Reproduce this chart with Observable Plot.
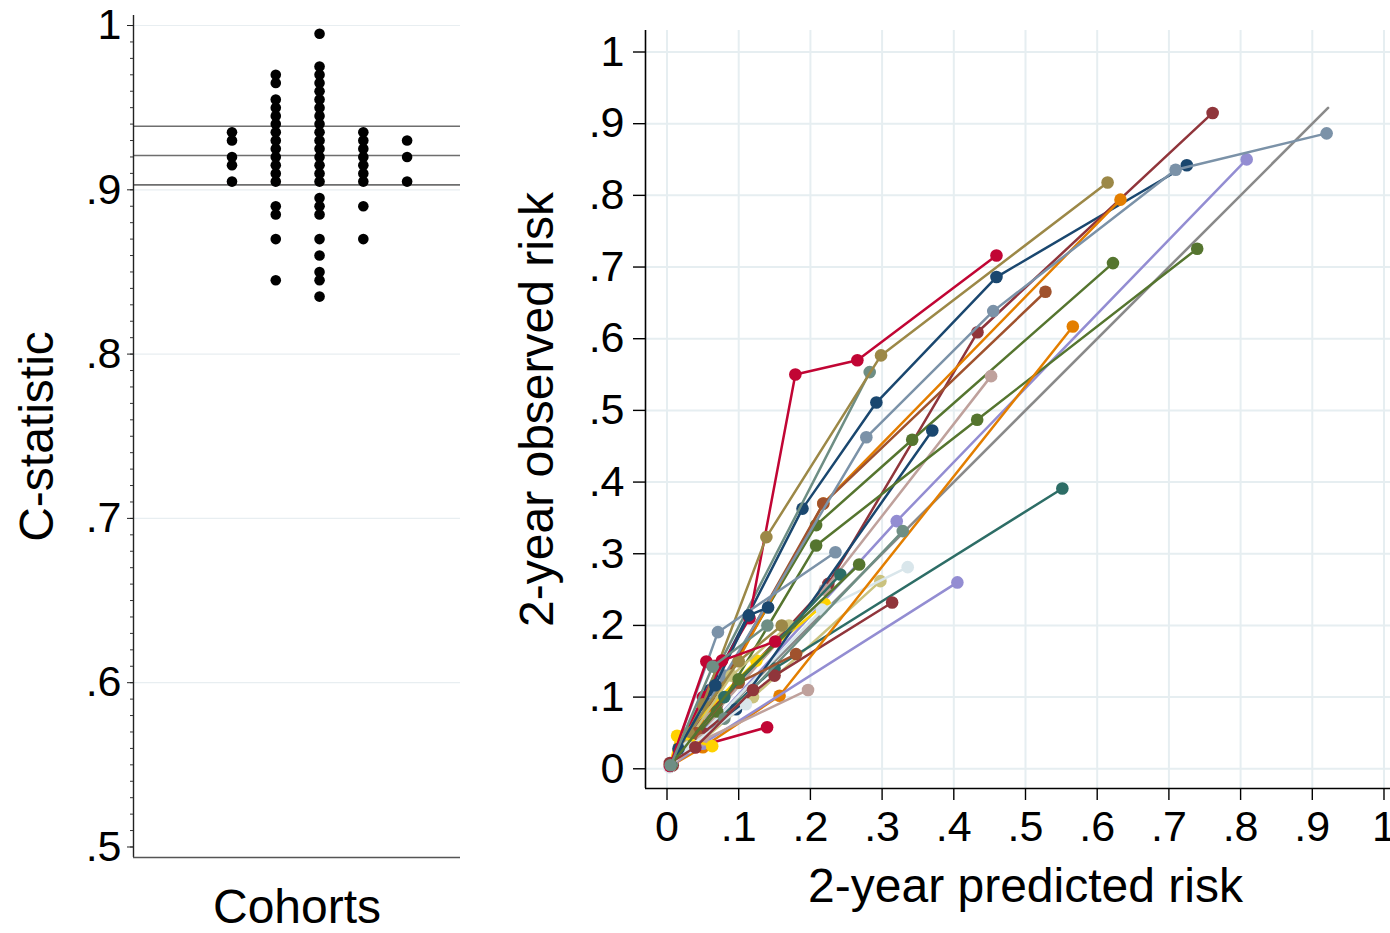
<!DOCTYPE html>
<html><head><meta charset="utf-8">
<script src="https://cdn.jsdelivr.net/npm/d3@7"></script>
<script src="https://cdn.jsdelivr.net/npm/@observablehq/plot@0.6"></script>
<style>
html,body{margin:0;padding:0;background:#fff;overflow:hidden;width:1390px;height:933px;}
#wrap{position:relative;width:1390px;height:933px;overflow:hidden;}
#left{position:absolute;left:0;top:0;width:470px;height:933px;}
#right{position:absolute;left:470px;top:0;width:945px;height:933px;}
</style></head><body><div id="wrap"><div id="left"></div><div id="right"></div></div>
<script>
// ---------- Left panel data: C-statistic per cohort (binned as in the dot plot) ----------
const cStat = [
  0.995, 0.975, 0.97, 0.97, 0.965, 0.965, 0.96, 0.955, 0.955, 0.95, 0.95,
  0.945, 0.945, 0.94, 0.94, 0.935, 0.935, 0.935, 0.935,
  0.93, 0.93, 0.93, 0.93, 0.93, 0.925, 0.925, 0.925,
  0.92, 0.92, 0.92, 0.92, 0.92, 0.915, 0.915, 0.915, 0.915,
  0.91, 0.91, 0.91, 0.905, 0.905, 0.905, 0.905, 0.905,
  0.895, 0.89, 0.89, 0.89, 0.885, 0.885, 0.87, 0.87, 0.87,
  0.86, 0.85, 0.845, 0.845, 0.835
];
const cQuartiles = [0.9030, 0.9209, 0.9387];
const cTicks = [0.5, 0.6, 0.7, 0.8, 0.9, 1];
const cMinorTicks = d3.range(50, 101).map(i => i / 100);
const cDomain = [0.4936, 1.0061];
const colDomain = [-4.25, 3.22];

// ---------- Right panel data: calibration by cohort ----------
const riskTicks = [0, 0.1, 0.2, 0.3, 0.4, 0.5, 0.6, 0.7, 0.8, 0.9, 1];
const riskXDomain = [-0.030, 1.030];
const riskYDomain = [-0.0275, 1.030];
const diagonalEnds = [0, 0.922];

const stataColors = {
  navy: "#1a476f", maroon: "#90353b", forest: "#55752f", dkorange: "#e37e00",
  teal: "#6e8e84", cranberry: "#c10534", lavender: "#938dd2", khaki: "#cac27e",
  sienna: "#a0522d", emidblue: "#7b92a8", emerald: "#2d6d66", brown: "#9c8847",
  erose: "#bfa19c", gold: "#ffd200", bluishgray: "#d9e6eb"
};

const cohortColor = [
  "navy", "maroon", "forest", "dkorange", "teal", "cranberry", "lavender", "khaki",
  "sienna", "emidblue", "emerald", "brown", "erose", "gold", "bluishgray",
  "navy", "maroon", "forest", "dkorange", "teal", "cranberry", "lavender", "khaki",
  "sienna", "emidblue", "emerald", "brown", "erose", "gold", "bluishgray",
  "navy", "maroon", "forest", "cranberry", "teal"
];
const predicted = [
  [0.005, 0.06, 0.189, 0.292, 0.4595, 0.725],
  [0.008, 0.07, 0.225, 0.433, 0.761],
  [0.005, 0.06, 0.208, 0.342, 0.622],
  [0.005, 0.06, 0.218, 0.6325],
  [0.006, 0.07, 0.2827],
  [0.005, 0.05, 0.115, 0.179, 0.2655, 0.4595],
  [0.005, 0.06, 0.3204, 0.8085],
  [0.004, 0.05, 0.12, 0.2976],
  [0.005, 0.06, 0.218, 0.5278],
  [0.007, 0.08, 0.278, 0.455, 0.7094, 0.92],
  [0.005, 0.05, 0.15, 0.5514],
  [0.004, 0.05, 0.1386, 0.2985, 0.6145],
  [0.005, 0.06, 0.22, 0.452],
  [0.005, 0.02, 0.1246, 0.22],
  [0.004, 0.05, 0.216, 0.3357],
  [0.005, 0.04, 0.0963, 0.37],
  [0.005, 0.05, 0.15, 0.314],
  [0.006, 0.07, 0.208, 0.4326, 0.7395],
  [0.005, 0.05, 0.157, 0.566],
  [0.006, 0.08, 0.3288],
  [0.005, 0.04, 0.1396],
  [0.004, 0.05, 0.405],
  [0.005, 0.03, 0.09, 0.17],
  [0.004, 0.04, 0.1, 0.18],
  [0.004, 0.071, 0.2349],
  [0.005, 0.08, 0.2418],
  [0.004, 0.03, 0.1, 0.16],
  [0.004, 0.05, 0.1967],
  [0.004, 0.014, 0.063],
  [0.003, 0.03, 0.11],
  [0.005, 0.016, 0.0674, 0.114, 0.141],
  [0.004, 0.0395, 0.12],
  [0.005, 0.1, 0.268],
  [0.004, 0.0548, 0.0767, 0.151],
  [0.005, 0.0636, 0.14]
];
const observed = [
  [0.006, 0.11, 0.363, 0.511, 0.686, 0.842],
  [0.005, 0.09, 0.258, 0.609, 0.915],
  [0.005, 0.09, 0.34, 0.459, 0.7055],
  [0.005, 0.08, 0.37, 0.794],
  [0.006, 0.14, 0.5534],
  [0.005, 0.10, 0.21, 0.55, 0.57, 0.716],
  [0.004, 0.06, 0.3455, 0.8502],
  [0.004, 0.04, 0.1, 0.2618],
  [0.005, 0.09, 0.37, 0.6655],
  [0.007, 0.13, 0.4625, 0.6385, 0.8358, 0.8865],
  [0.004, 0.05, 0.14, 0.391],
  [0.004, 0.09, 0.3232, 0.5767, 0.818],
  [0.004, 0.07, 0.25, 0.5478],
  [0.006, 0.045, 0.151, 0.23],
  [0.003, 0.05, 0.222, 0.2813],
  [0.005, 0.035, 0.083, 0.472],
  [0.004, 0.05, 0.13, 0.232],
  [0.005, 0.08, 0.3116, 0.487, 0.7256],
  [0.004, 0.03, 0.102, 0.617],
  [0.006, 0.07, 0.3316],
  [0.004, 0.03, 0.058],
  [0.003, 0.035, 0.26],
  [0.005, 0.04, 0.13, 0.2],
  [0.004, 0.05, 0.12, 0.16],
  [0.004, 0.1906, 0.302],
  [0.005, 0.1, 0.271],
  [0.005, 0.05, 0.15, 0.2],
  [0.003, 0.04, 0.110],
  [0.004, 0.046, 0.0316],
  [0.002, 0.03, 0.09],
  [0.006, 0.028, 0.1166, 0.214, 0.225],
  [0.008, 0.030, 0.11],
  [0.005, 0.125, 0.285],
  [0.004, 0.1497, 0.151, 0.1776],
  [0.005, 0.1427, 0.2]
];

// ---------- helpers ----------
const fmt = d => {
  const s = d3.format(".1f")(d);
  if (s === "0.0") return "0";
  if (s === "1.0") return "1";
  return s.replace(/^0/, "");
};
const FONT = "'Liberation Sans', Arial, Helvetica, sans-serif";

// ---------- Left panel ----------
const dotRows = d3.groups(cStat, v => v).flatMap(([v, vs]) =>
  vs.map((_, i) => ({c: v, col: i - Math.floor(vs.length / 2)})));

const left = Plot.plot({
  width: 470, height: 933,
  marginLeft: 133, marginRight: 10, marginTop: 15, marginBottom: 76,
  style: {fontFamily: FONT, fontSize: "43px", maxWidth: "none", overflow: "visible", background: "white"},
  x: {domain: colDomain, axis: null},
  y: {domain: cDomain, axis: null},
  marks: [
    Plot.ruleY(cTicks.filter(d => d > 0.5), {stroke: "#e8eef1", strokeWidth: 1.2}),
    Plot.ruleY(cQuartiles, {stroke: "#6e6e6e", strokeWidth: 1.7}),
    Plot.dot(dotRows, {x: "col", y: "c", r: 5.3, fill: "black", stroke: "none"}),
    Plot.ruleX([colDomain[0]], {stroke: "#222", strokeWidth: 1.4}),
    Plot.ruleY([cDomain[0]], {stroke: "#555", strokeWidth: 1.4}),
    Plot.axisY(cMinorTicks, {tickSize: 3, tickFormat: () => "", stroke: "#333", label: null}),
    Plot.axisY(cTicks, {tickSize: 6, tickPadding: 6, tickFormat: fmt, fontSize: 43, stroke: "#222", fill: "black", label: null}),
    Plot.text(["C-statistic"], {frameAnchor: "left", dx: -96, rotate: -90, fontSize: 48, textAnchor: "middle", lineAnchor: "middle", fill: "black"}),
    Plot.text(["Cohorts"], {frameAnchor: "bottom", dy: 50, fontSize: 48, textAnchor: "middle", lineAnchor: "middle", fill: "black"})
  ]
});
document.getElementById("left").append(left);

// ---------- Right panel ----------
const calib = predicted.map((ps, k) => ps.map((p, i) => ({k, p, o: observed[k][i]})));
const cohortMarks = calib.flatMap((pts, k) => {
  const col = stataColors[cohortColor[k]];
  return [
    Plot.line(pts, {x: "p", y: "o", stroke: col, strokeWidth: 2.5}),
    Plot.dot(pts, {x: "p", y: "o", r: 6.3, fill: col, stroke: "none"})
  ];
});
const diag = diagonalEnds.map(v => ({p: v, o: v}));

const right = Plot.plot({
  width: 945, height: 933,
  marginLeft: 175, marginRight: 10, marginTop: 30, marginBottom: 145,
  style: {fontFamily: FONT, fontSize: "43px", maxWidth: "none", overflow: "visible", background: "white"},
  x: {domain: riskXDomain, axis: null},
  y: {domain: riskYDomain, axis: null},
  marks: [
    Plot.ruleX(riskTicks, {stroke: "#e6eef1", strokeWidth: 2}),
    Plot.ruleY(riskTicks, {stroke: "#e6eef1", strokeWidth: 2}),
    Plot.line(diag, {x: "p", y: "o", stroke: "#8a8a8a", strokeWidth: 2.6}),
    ...cohortMarks,
    Plot.ruleX([riskXDomain[0]], {stroke: "black", strokeWidth: 1.6}),
    Plot.ruleY([riskYDomain[0]], {stroke: "black", strokeWidth: 1.6}),
    Plot.axisX(riskTicks, {tickSize: 12, tickPadding: 10, tickFormat: fmt, fontSize: 43, stroke: "black", strokeWidth: 1.4, fill: "black", label: null}),
    Plot.axisY(riskTicks, {tickSize: 12, tickPadding: 9, tickFormat: fmt, fontSize: 43, stroke: "black", strokeWidth: 1.4, fill: "black", label: null}),
    Plot.text(["2-year observed risk"], {frameAnchor: "left", dx: -108, rotate: -90, fontSize: 48, textAnchor: "middle", lineAnchor: "middle", fill: "black"}),
    Plot.text(["2-year predicted risk"], {frameAnchor: "bottom", dy: 98, fontSize: 48, textAnchor: "middle", lineAnchor: "middle", fill: "black"})
  ]
});
document.getElementById("right").append(right);
</script></body></html>
